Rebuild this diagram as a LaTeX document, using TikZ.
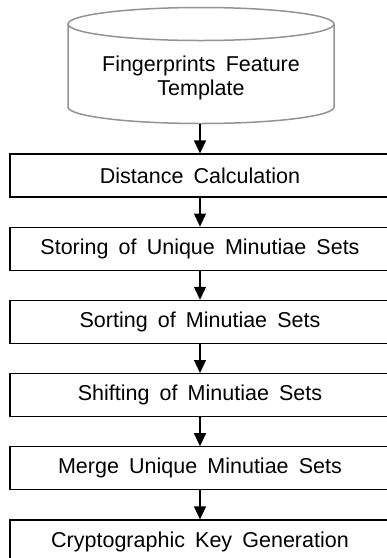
\documentclass[tikz,border=0pt]{standalone}
\usepackage{fontspec}
\setmainfont[WordSpace=1.7]{Liberation Sans}
\usepackage{tikz}
\usetikzlibrary{positioning,arrows.meta}

\tikzset{
  stepbox/.style={draw,line width=1.2pt,minimum width=380pt,minimum height=43pt,inner sep=0pt,font=\fontsize{21.5}{25}\selectfont},
  drum/.style={draw=gray!85,line width=1.5pt},
  flow/.style={line width=1.2pt,-{Triangle[length=13pt,width=12pt]}},
}

\begin{document}
\begin{tikzpicture}[x=1pt,y=1pt]
\useasboundingbox (0,0) rectangle (387,-558);

% template drum
\draw[drum] (68,-24) -- (68,-107) arc (180:360:133 and 16.5) -- (334,-24);
\draw[drum] (201,-24) ellipse (133 and 16.5);
\node[align=center,font=\fontsize{21.5}{24}\selectfont] (tmpl) at (201,-78) {Fingerprints Feature\\Template};
\coordinate (tmplbase) at (201,-123.5);

\node[stepbox] (dist) at (200,-175.5) {Distance Calculation};
\node[stepbox,below=29pt of dist] (store) {Storing of Unique Minutiae Sets};
\node[stepbox,below=29pt of store] (sort) {Sorting of Minutiae Sets};
\node[stepbox,below=29pt of sort] (shift) {Shifting of Minutiae Sets};
\node[stepbox,below=29pt of shift] (merge) {Merge Unique Minutiae Sets};
\node[stepbox,below=29pt of merge] (key) {Cryptographic Key Generation};

\draw[flow] (tmplbase -| dist.north) -- (dist.north);
\draw[flow] (dist) -- (store);
\draw[flow] (store) -- (sort);
\draw[flow] (sort) -- (shift);
\draw[flow] (shift) -- (merge);
\draw[flow] (merge) -- (key);

\end{tikzpicture}
\end{document}
